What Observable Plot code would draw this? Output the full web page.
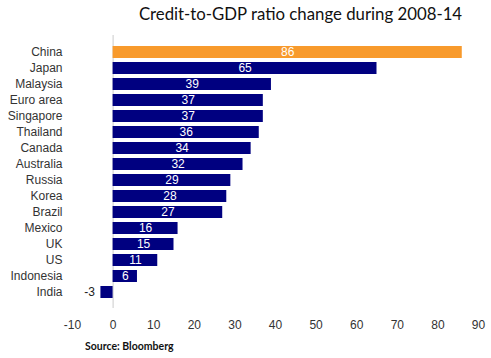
<!DOCTYPE html>
<html><head><meta charset="utf-8">
<script src="https://cdn.jsdelivr.net/npm/d3@7"></script>
<script src="https://cdn.jsdelivr.net/npm/@observablehq/plot@0.6"></script>
<style>
body{margin:0;background:#fff;width:491px;height:358px;overflow:hidden;position:relative;font-family:"Liberation Sans",Arial,sans-serif;}
#chart{position:absolute;left:0;top:0;z-index:0;}
#title{position:absolute;left:110px;width:381px;top:3px;text-align:center;font-family:Lato,"Open Sans",sans-serif;font-size:16.8px;color:#111;z-index:2;}
#source{position:absolute;left:85px;top:340px;font-family:Lato,"Open Sans",sans-serif;font-weight:bold;font-size:10.5px;color:#111;z-index:2;}
</style></head>
<body>
<div id="chart"></div>
<div id="title">Credit-to-GDP ratio change during 2008-14</div>
<div id="source">Source: Bloomberg</div>
<script>
const countries = ["China","Japan","Malaysia","Euro area","Singapore","Thailand","Canada","Australia","Russia","Korea","Brazil","Mexico","UK","US","Indonesia","India"];
const values = [86,65,39,37,37,36,34,32,29,28,27,16,15,11,6,-3];
const xTicks = [-10,0,10,20,30,40,50,60,70,80,90];
const highlight = "China";

const data = countries.map((c,i)=>({country:c,value:values[i]}));

const chart = Plot.plot({
  width:491, height:358,
  marginTop:35, marginBottom:50, marginLeft:72, marginRight:13,
  style:{fontFamily:"'Liberation Sans',Arial,sans-serif", fontSize:"12px", color:"#333", background:"transparent"},
  x:{domain:[-10,90], ticks:xTicks, tickFormat:d=>String(d), tickSize:0, tickPadding:12, label:null},
  y:{domain:countries, padding:0.25, tickSize:0, tickPadding:10, label:null},
  marks:[
    Plot.ruleX([0],{stroke:"#ccc", strokeWidth:1}),
    Plot.barX(data,{x:"value", y:"country", fill:d=>d.country===highlight?"#f89a2c":"#000080"}),
    Plot.text(data.filter(d=>d.value>0),{x:d=>d.value/2, y:"country", text:d=>String(d.value), fill:"#fff", fontSize:12}),
    Plot.text(data.filter(d=>d.value<0),{x:"value", y:"country", text:d=>String(d.value), fill:"#222", fontSize:12, textAnchor:"end", dx:-6})
  ]
});
document.getElementById("chart").appendChild(chart);
</script>
</body></html>
